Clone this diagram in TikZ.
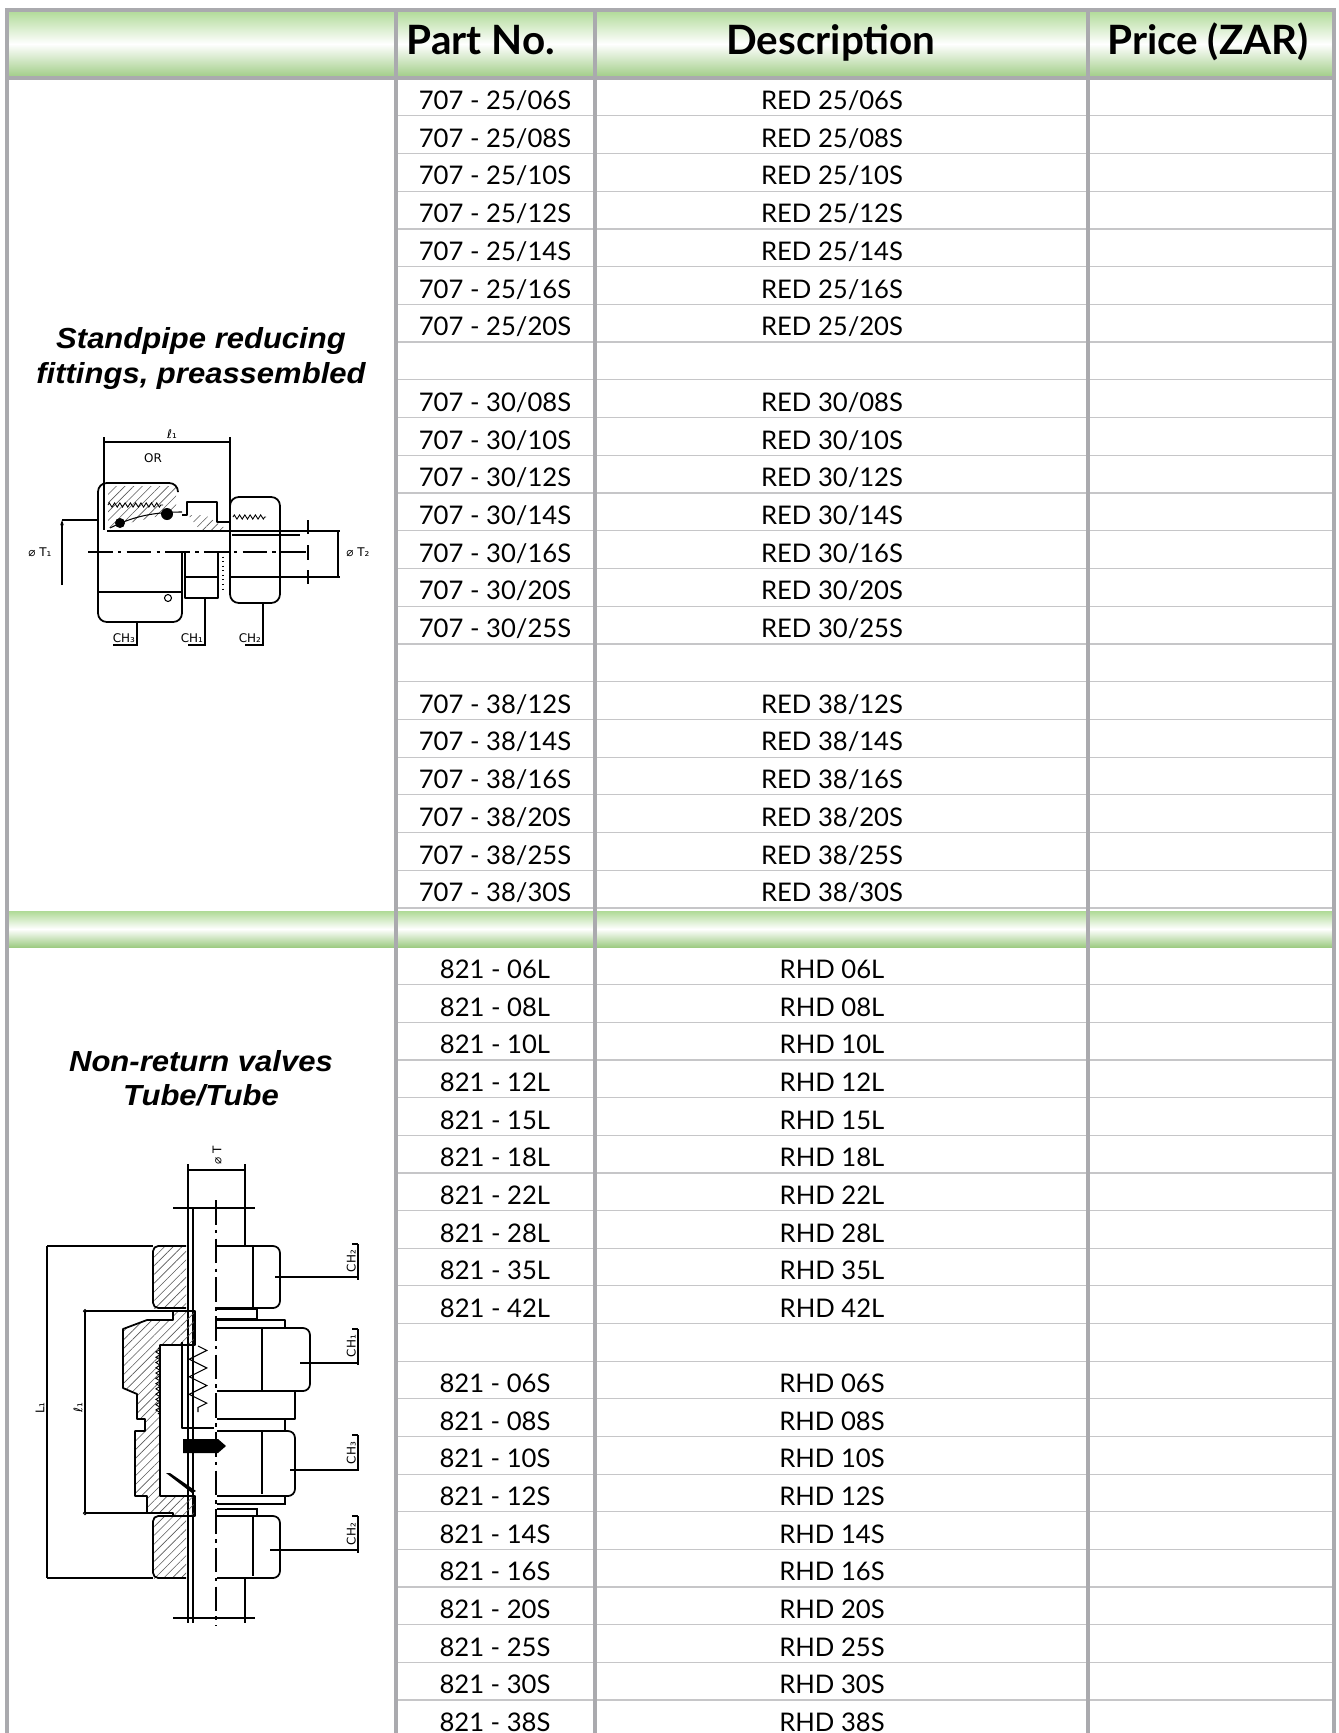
\documentclass[tikz,border=0pt]{standalone}
\usepackage{fontspec}
\setmainfont{Lato}
\newfontfamily\arialfont{Liberation Sans}
\newfontfamily\drawfont{DejaVu Sans}
\usepackage{tikz}
\usetikzlibrary{arrows.meta}
\usetikzlibrary{patterns.meta}
\usetikzlibrary{decorations.pathmorphing}
\usetikzlibrary{positioning}

\definecolor{bandgreen}{RGB}{166,214,138}
\definecolor{rulegray}{RGB}{170,170,174}
\definecolor{rowgray}{RGB}{198,198,200}

\tikzset{
    band/.style={top color=bandgreen!90!white, bottom color=bandgreen!95!black, middle color=white},
    rule/.style={draw=rulegray, line width=2.2pt},
    rowline/.style={draw=rowgray, line width=0.7pt},
    hdr/.style={font=\fontsize{23}{26}\selectfont\bfseries, anchor=base, inner sep=0pt},
    cell/.style={font=\fontsize{14.6}{17}\selectfont, anchor=base, inner sep=0pt},
    ttl/.style={font=\arialfont\bfseries\itshape\fontsize{16.5}{19}\selectfont, anchor=base, inner sep=0pt, xscale=1.07},
    part/.style={line width=1pt, line join=round},
    thin/.style={line width=0.6pt},
    hatch/.style={pattern={Lines[angle=45, distance=3.5pt, line width=0.35pt]}, pattern color=black!65},
    lbl/.style={font=\drawfont\fontsize{6.8}{7}\selectfont, inner sep=1pt},
    thread/.style={decorate, decoration={zigzag, amplitude=1.2pt, segment length=3pt}, line width=0.5pt},
    axis/.style={line width=0.7pt, dash pattern=on 14pt off 3pt on 2pt off 3pt}
}

\begin{document}
\begin{tikzpicture}[x=0.02cm, y=-0.02cm]
    \useasboundingbox (0,0) rectangle (1338,1733);

    % green bands
    \shade[band] (7,10) rectangle (1334,78);
    \shade[band] (7,911) rectangle (1334,947);

    % row lines
    \foreach \k in {1,...,22}
        \draw[rowline] (397,{78+\k*37.73}) -- (1333,{78+\k*37.73});
    \foreach \k in {1,...,20}
        \draw[rowline] (397,{947+\k*37.65}) -- (1333,{947+\k*37.65});

    % frame and columns
    \draw[rule] (7,1740) -- (7,10) -- (1334,10) -- (1334,1740);
    \draw[rule] (7,78) -- (1334,78);
    \foreach \cx in {396,595,1088}
        \draw[rule] (\cx,10) -- (\cx,1740);

    % header
    \node[hdr] (hpart) at (481,55) {Part No.};
    \node[hdr] (hdesc) at (831,55) {Description};
    \node[hdr] (hprice) at (1208,55) {Price (ZAR)};

    % 707 rows
    \foreach \sz [count=\k from 0] in {06,08,10,12,14,16,20} {
        \node[cell] (pn-a\k) at (495,{109.5+\k*37.73}) {707 - 25/\sz S};
        \node[cell] (ds-a\k) at (832,{109.5+\k*37.73}) {RED 25/\sz S};
    }
    \foreach \sz [count=\k from 8] in {08,10,12,14,16,20,25} {
        \node[cell] (pn-a\k) at (495,{109.5+\k*37.73}) {707 - 30/\sz S};
        \node[cell] (ds-a\k) at (832,{109.5+\k*37.73}) {RED 30/\sz S};
    }
    \foreach \sz [count=\k from 16] in {12,14,16,20,25,30} {
        \node[cell] (pn-a\k) at (495,{109.5+\k*37.73}) {707 - 38/\sz S};
        \node[cell] (ds-a\k) at (832,{109.5+\k*37.73}) {RED 38/\sz S};
    }

    % 821 rows
    \foreach \sz [count=\k from 0] in {06L,08L,10L,12L,15L,18L,22L,28L,35L,42L} {
        \node[cell] (pn-b\k) at (495,{978.5+\k*37.65}) {821 - \sz};
        \node[cell] (ds-b\k) at (832,{978.5+\k*37.65}) {RHD \sz};
    }
    \foreach \sz [count=\k from 11] in {06S,08S,10S,12S,14S,16S,20S,25S,30S,38S} {
        \node[cell] (pn-b\k) at (495,{978.5+\k*37.65}) {821 - \sz};
        \node[cell] (ds-b\k) at (832,{978.5+\k*37.65}) {RHD \sz};
    }

    % titles
    \node[ttl] (ttl-a1) at (201,348) {Standpipe reducing};
    \node[ttl] (ttl-a2) at (201,383) {fittings, preassembled};
    \node[ttl] (ttl-b1) at (201,1071) {Non-return valves};
    \node[ttl] (ttl-b2) at (201,1105) {Tube/Tube};

    % standpipe reducing fitting
    \draw[thin] (104,442) -- (230,442);
    \draw[thin] (104,437) -- (104,530);
    \draw[thin] (230,437) -- (230,528);
    \node[lbl] (dim-l1) at (172,434) {ℓ₁};
    \node[lbl] (dim-or) at (153,458) {OR};
    \fill[hatch] (108,486) -- (176,486) -- (176,512) -- (108,528) -- cycle;
    \draw[part, rounded corners=5] (178,492) -- (178,483) -- (98,483) -- (98,622) -- (182,622) -- (182,552);
    \draw[part] (99,592) -- (182,592);
    \draw[part] (182,515) -- (187,515) -- (187,502) -- (217,502) -- (217,522) -- (230,522);
    \fill[hatch] (188,515) -- (205,515) -- (228,530) -- (200,530) -- cycle;
    \draw[part, rounded corners=5] (230,603) -- (230,497) -- (280,497) -- (280,603) -- cycle;
    \draw[part] (230,577) -- (280,577);
    \draw[thread] (108,505) -- (163,505);
    \draw[thread] (233,517) -- (266,517);
    \draw[thin] (110,528) .. controls (130,518) and (150,512) .. (182,512);
    \fill (120,523) circle (5);
    \fill (167,514) circle (6);
    \draw[part] (107,531) -- (340,531);
    \draw[thin] (232,535) -- (300,535);
    \draw[part] (280,577) -- (340,577);
    \draw[thin] (338,531) -- (338,577);
    \draw[axis] (88,552) -- (310,552);
    \draw[part] (185,552) -- (185,598) -- (218,598) -- (218,552);
    \draw[part] (185,577) -- (218,577);
    \draw[thin, dotted] (223,552) -- (223,592);
    \draw[thin] (168,598) circle (3.5);
    \draw[thin] (308,520) -- (308,534) (308,545) -- (308,560) (308,570) -- (308,584);
    \draw[thin, -{Stealth[length=3pt, width=2pt]}] (62,585) -- (62,520);
    \draw[thin] (62,520) -- (97,520);
    \node[lbl] (dim-t1) at (40,552) {⌀ T₁};
    \node[lbl] (dim-t2) at (358,552) {⌀ T₂};
    \draw[thin] (137,622) -- (137,645) -- (113,645);
    \draw[thin] (205,598) -- (205,645) -- (188,645);
    \draw[thin] (263,603) -- (263,645) -- (245,645);
    \node[lbl, anchor=south east] (ch-a3) at (137,645) {CH₃};
    \node[lbl, anchor=south east] (ch-a1) at (205,645) {CH₁};
    \node[lbl, anchor=south east] (ch-a2) at (263,645) {CH₂};

    % non-return valve
    \draw[thin] (188,1170) -- (245,1170);
    \draw[thin] (188,1164) -- (188,1208);
    \draw[thin] (245,1164) -- (245,1246);
    \node[lbl, rotate=90] (dim-t) at (217,1155) {⌀ T};
    \draw[thin] (173,1208) -- (255,1208);
    \draw[thin] (173,1618) -- (255,1618);
    \draw[thin] (245,1578) -- (245,1623);
    \draw[part] (188,1208) -- (188,1623);
    \draw[thin] (193,1208) -- (193,1623);
    \draw[part] (216,1208) -- (245,1208) -- (245,1246);
    \draw[axis] (216,1200) -- (216,1626);
    % upper nut
    \fill[hatch] (153,1246) rectangle (186,1308);
    \draw[part, rounded corners=3] (186,1246) -- (153,1246) -- (153,1308) -- (186,1308);
    \draw[part, rounded corners=4] (217,1246) -- (280,1246) -- (280,1308) -- (217,1308);
    \draw[part] (253,1247) -- (253,1307);
    \draw[thin] (217,1309) -- (257,1309) -- (257,1319) -- (217,1319);
    % body
    \fill[hatch] (173,1311) -- (195,1311) -- (195,1345) -- (160,1345) -- (160,1496) -- (195,1496) -- (195,1516) -- (173,1516) -- (173,1513) -- (147,1513) -- (147,1496) -- (135,1496) -- (135,1431) -- (145,1431) -- (145,1419) -- (137,1419) -- (137,1394) -- (123,1388) -- (123,1329) -- (147,1320) -- (173,1320) -- cycle;
    \draw[part] (173,1311) -- (195,1311) -- (195,1345) -- (160,1345) -- (160,1496) -- (195,1496) -- (195,1516) -- (173,1516) -- (173,1513) -- (147,1513) -- (147,1496) -- (135,1496) -- (135,1431) -- (145,1431) -- (145,1419) -- (137,1419) -- (137,1394) -- (123,1388) -- (123,1329) -- (147,1320) -- (173,1320) -- cycle;
    \draw[thread] (158,1348) -- (158,1414);
    \draw[part] (217,1320) -- (285,1320) -- (285,1328);
    \draw[part, rounded corners=4] (217,1328) -- (310,1328) -- (310,1391) -- (217,1391);
    \draw[part] (262,1329) -- (262,1390);
    \draw[part] (217,1391) -- (295,1391) -- (295,1419) -- (217,1419);
    \draw[thin] (217,1419) -- (285,1419) -- (285,1431);
    \draw[part, rounded corners=4] (217,1431) -- (295,1431) -- (295,1496) -- (217,1496);
    \draw[part] (262,1432) -- (262,1494);
    \draw[thin] (217,1496) -- (285,1496) -- (285,1504) -- (217,1504);
    \draw[thin] (217,1509) -- (257,1509) -- (257,1516);
    % spring and poppet
    \draw[thin, decorate, decoration={zigzag, amplitude=5pt, segment length=10pt}] (198,1346) -- (198,1412);
    \draw[part] (182,1342) -- (182,1428) -- (214,1428);
    \fill (183,1439) -- (218,1439) -- (226,1446) -- (218,1453) -- (183,1453) -- cycle;
    \fill (166,1473) -- (170,1473) -- (196,1491) -- (192,1493) -- cycle;
    % lower nut
    \fill[hatch] (153,1516) rectangle (186,1578);
    \draw[part, rounded corners=3] (186,1516) -- (153,1516) -- (153,1578) -- (186,1578);
    \draw[part, rounded corners=4] (217,1516) -- (280,1516) -- (280,1578) -- (217,1578);
    \draw[part] (253,1517) -- (253,1576);
    % dimensions
    \draw[thin] (47,1246) -- (47,1578);
    \draw[thin] (47,1246) -- (153,1246);
    \draw[thin] (47,1578) -- (153,1578);
    \draw[thin] (85,1311) -- (85,1513);
    \draw[thin] (85,1311) -- (173,1311);
    \draw[thin] (85,1513) -- (173,1513);
    \draw[thin] (85,1311) circle (1.5) (85,1513) circle (1.5);
    \node[lbl, rotate=90] (dim-lb) at (40,1408) {L₁};
    \node[lbl, rotate=90] (dim-lc) at (78,1408) {ℓ₁};
    % leaders
    \draw[thin] (275,1277) -- (358,1277) (358,1244) -- (358,1280) (352,1244) -- (358,1244);
    \draw[thin] (300,1363) -- (358,1363) (358,1329) -- (358,1365) (352,1329) -- (358,1329);
    \draw[thin] (290,1470) -- (358,1470) (358,1435) -- (358,1471) (352,1435) -- (358,1435);
    \draw[thin] (270,1550) -- (358,1550) (358,1516) -- (358,1553) (352,1516) -- (358,1516);
    \node[lbl, rotate=90, anchor=south] (ch-b2) at (358,1261) {CH₂};
    \node[lbl, rotate=90, anchor=south] (ch-b1) at (358,1346) {CH₁};
    \node[lbl, rotate=90, anchor=south] (ch-b3) at (358,1453) {CH₃};
    \node[lbl, rotate=90, anchor=south] (ch-b4) at (358,1534) {CH₂};
\end{tikzpicture}
\end{document}
